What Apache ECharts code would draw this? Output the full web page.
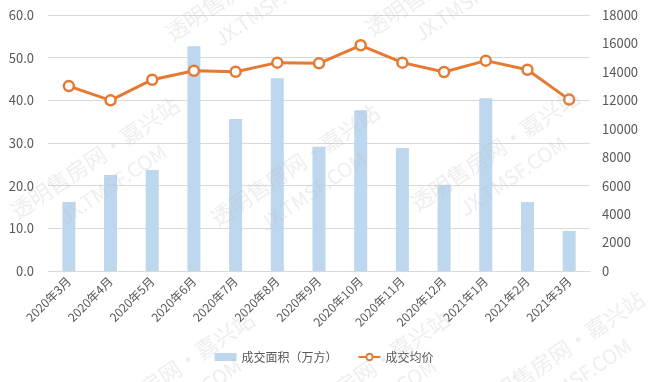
<!DOCTYPE html>
<html><head><meta charset="utf-8">
<script src="https://cdn.jsdelivr.net/npm/echarts@6/dist/echarts.min.js"></script>
<style>html,body{margin:0;padding:0;background:#fff}#c{width:648px;height:382px}</style>
</head><body><div id="c"></div>
<script>
var categories = ['2020年3月','2020年4月','2020年5月','2020年6月','2020年7月','2020年8月','2020年9月','2020年10月','2020年11月','2020年12月','2021年1月','2021年2月','2021年3月'];
var areaValues = [16.2, 22.5, 23.7, 52.7, 35.6, 45.2, 29.1, 37.7, 28.8, 20.2, 40.5, 16.2, 9.4];
var priceValues = [13000, 12000, 13450, 14080, 14010, 14650, 14600, 15870, 14650, 13990, 14790, 14150, 12050];
var seriesNames = ['成交面积（万方）', '成交均价'];
var watermarkTexts = ['透明售房网·嘉兴站', 'JX.TMSF.COM'];

var chart = echarts.init(document.getElementById('c'));
var font = '"Microsoft YaHei","Noto Sans CJK SC",sans-serif';

var marks = [];
var centers = [[95,158],[295,165],[495,150],[170,372],[365,372],[560,352],[250,-20],[450,-25]];
centers.forEach(function(c){
  marks.push({type:'text', x:c[0], y:c[1], rotation: 34*Math.PI/180, z:100, silent:true,
    style:{text: watermarkTexts[0], fill:'rgba(190,190,190,0.26)', font:'22px '+font, align:'center', verticalAlign:'middle'}});
  marks.push({type:'text', x:c[0]+18, y:c[1]+26, rotation: 34*Math.PI/180, z:100, silent:true,
    style:{text: watermarkTexts[1], fill:'rgba(190,190,190,0.26)', font:'20px '+font, align:'center', verticalAlign:'middle'}});
});

chart.setOption({
  backgroundColor: '#fff',
  textStyle: {fontFamily: font},
  graphic: marks,
  grid: {left: 48, right: 58, top: 15, bottom: 111},
  legend: {
    bottom: 14, left: 'center', itemGap: 20,
    textStyle: {color: '#595959', fontSize: 12, fontFamily: font},
    data: [{name: seriesNames[0], icon: 'rect', itemWidth: 20, itemHeight: 7}, {name: seriesNames[1]}],
    itemWidth: 22, itemHeight: 8
  },
  xAxis: {
    type: 'category', data: categories,
    axisLine: {lineStyle: {color: '#d9d9d9'}},
    axisTick: {show: false},
    axisLabel: {rotate: 45, color: '#595959', fontSize: 12, interval: 0, margin: 8}
  },
  yAxis: [
    {type: 'value', min: 0, max: 60, interval: 10,
     axisLine: {show: false}, axisTick: {show: false},
     splitLine: {lineStyle: {color: '#d9d9d9'}},
     axisLabel: {color: '#595959', fontSize: 13, margin: 14, formatter: function(v){return v.toFixed(1);}}},
    {type: 'value', min: 0, max: 18000, interval: 2000,
     axisLine: {show: false}, axisTick: {show: false}, splitLine: {show: false},
     axisLabel: {color: '#595959', fontSize: 13, margin: 12, formatter: function(v){return String(v);}}}
  ],
  series: [
    {name: seriesNames[0], type: 'bar', data: areaValues, yAxisIndex: 0, barWidth: 13,
     itemStyle: {color: '#BDD7EE'}},
    {name: seriesNames[1], type: 'line', data: priceValues, yAxisIndex: 1,
     symbol: 'circle', symbolSize: 10,
     lineStyle: {color: '#E57A35', width: 3},
     itemStyle: {color: '#fff', borderColor: '#E57A35', borderWidth: 2.5}}
  ]
});
</script></body></html>
